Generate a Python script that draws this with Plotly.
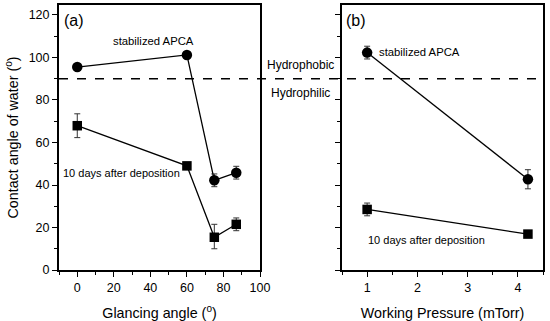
import plotly.graph_objects as go

# Panel (a): glancing angle
ga_x = [0, 60, 75, 87]
ga_stab = [95.5, 101.2, 42.2, 45.8]
ga_stab_err_p = [0, 0, 3, 3]
ga_stab_err_m = [0, 0, 3, 3]
ga_10d = [67.9, 49.0, 15.4, 21.5]
ga_10d_err_p = [5.6, 0, 6.1, 3]
ga_10d_err_m = [5.6, 0, 5.4, 3]

# Panel (b): working pressure
wp_x = [1, 4.2]
wp_stab = [102.3, 42.7]
wp_stab_err_p = [3, 4.5]
wp_stab_err_m = [3, 4.5]
wp_10d = [28.5, 16.9]
wp_10d_err_p = [3, 1.5]
wp_10d_err_m = [3, 1.5]

FONT = "Liberation Sans, Arial, sans-serif"
fig = go.Figure()

def add(x, y, ep, em, sym, xa, ya):
    fig.add_trace(go.Scatter(
        x=x, y=y, mode="lines+markers", xaxis=xa, yaxis=ya,
        line=dict(color="black", width=1.3),
        marker=dict(symbol=sym, size=10.5 if sym == "circle" else 9.5, color="black"),
        error_y=dict(type="data", symmetric=False, array=ep, arrayminus=em,
                     color="#333", thickness=1, width=3),
        showlegend=False, cliponaxis=False))

add(ga_x, ga_stab, ga_stab_err_p, ga_stab_err_m, "circle", "x", "y")
add(ga_x, ga_10d, ga_10d_err_p, ga_10d_err_m, "square", "x", "y")
add(wp_x, wp_stab, wp_stab_err_p, wp_stab_err_m, "circle", "x2", "y2")
add(wp_x, wp_10d, wp_10d_err_p, wp_10d_err_m, "square", "x2", "y2")

W, H = 550, 321
xa_dom = [59 / W, 260 / W]
xb_dom = [342 / W, 543 / W]
y_dom = [1 - 270 / H, 1 - 5 / H]

axcommon = dict(showline=True, linecolor="black", linewidth=2, mirror=True,
                ticks="outside", ticklen=5, tickwidth=1.3, tickcolor="black",
                showgrid=False, zeroline=False, automargin=False,
                tickfont=dict(family=FONT, size=12.5, color="black"))
TF = dict(family=FONT, size=14.3, color="black")

fig.update_layout(
    width=W, height=H, margin=dict(l=0, r=0, t=0, b=0, autoexpand=False),
    paper_bgcolor="white", plot_bgcolor="white",
    font=dict(family=FONT, color="black"),
    xaxis=dict(domain=xa_dom, range=[-10, 100], tick0=0, dtick=20, anchor="y",
               minor=dict(dtick=10, ticks="outside", ticklen=3, tickcolor="black"),
               title=dict(text="Glancing angle (<sup>o</sup>)", font=TF, standoff=15),
               **axcommon),
    yaxis=dict(domain=y_dom, range=[0, 124.7], tick0=0, dtick=20, anchor="x",
               minor=dict(dtick=10, ticks="outside", ticklen=3, tickcolor="black"),
               title=dict(text="Contact angle of water (<sup>o</sup>)", font=TF, standoff=7),
               **axcommon),
    xaxis2=dict(domain=xb_dom, range=[0.5, 4.5], tick0=1, dtick=1, anchor="y2",
                minor=dict(dtick=0.5, ticks="outside", ticklen=3, tickcolor="black"),
                title=dict(text="Working Pressure (mTorr)", font=TF, standoff=15),
                **axcommon),
    yaxis2=dict(domain=y_dom, range=[0, 124.7], tick0=0, dtick=20, anchor="x2",
                showticklabels=False,
                minor=dict(dtick=10, ticks="outside", ticklen=3, tickcolor="black"),
                **axcommon),
)

fig.add_shape(type="line", xref="paper", yref="y", x0=xa_dom[0], x1=xb_dom[1],
              y0=90, y1=90, line=dict(color="black", width=1.3, dash="dash"))

ann = [
    dict(text="(a)", xref="x", yref="y", x=-8.5, y=117.5, xanchor="left", yanchor="middle", size=16),
    dict(text="(b)", xref="x2", yref="y2", x=0.53, y=117.5, xanchor="left", yanchor="middle", size=16),
    dict(text="stabilized APCA", xref="x", yref="y", x=41.5, y=107.8, xanchor="center", yanchor="middle", size=11.3),
    dict(text="10 days after deposition", xref="x", yref="y", x=-9, y=45.6, xanchor="left", yanchor="middle", size=11),
    dict(text="stabilized APCA", xref="x2", yref="y2", x=1.2, y=102.5, xanchor="left", yanchor="middle", size=11.3),
    dict(text="10 days after deposition", xref="x2", yref="y2", x=0.98, y=14, xanchor="left", yanchor="middle", size=11),
    dict(text="Hydrophobic", xref="paper", yref="y", x=300.5 / W, y=96.5, xanchor="center", yanchor="middle", size=12),
    dict(text="Hydrophilic", xref="paper", yref="y", x=300.5 / W, y=83.5, xanchor="center", yanchor="middle", size=12),
]
for a in ann:
    size = a.pop("size")
    fig.add_annotation(**a, showarrow=False, font=dict(family=FONT, size=size, color="black"))

fig.write_html("out.html", config={"displayModeBar": False},
               post_script="document.body.style.margin='0';document.body.style.padding='0';")
